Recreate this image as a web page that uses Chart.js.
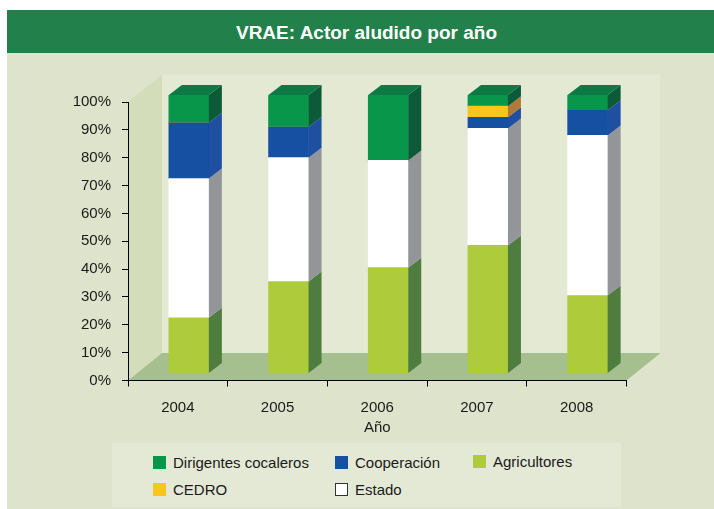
<!DOCTYPE html>
<html>
<head>
<meta charset="utf-8">
<script src="https://cdn.jsdelivr.net/npm/chart.js@4.4.1/dist/chart.umd.min.js"></script>
<style>
    body { margin: 0; background: #fff; width: 714px; height: 509px; overflow: hidden;
           font-family: 'Liberation Sans', Arial, sans-serif; }
    #panel { position: absolute; left: 7px; top: 10px; width: 707px; height: 499px; background: #dee4cb; }
    #title { position: absolute; left: 7px; top: 10px; width: 695px; padding-left: 12px; height: 43px;
             background: #22804a; color: #fff; font-weight: bold; font-size: 19px; line-height: 45px; text-align: center; }
    #chart { position: absolute; left: 0; top: 0; }
    #legend { position: absolute; left: 112px; top: 443px; width: 509px; height: 64px; background: #e4e9d5; }
    .item { position: absolute; height: 20px; line-height: 20px; font-size: 15px; color: #1a1a1a; white-space: nowrap; }
    .box { position: absolute; width: 13px; height: 13px; left: 0; top: 4px; box-sizing: border-box; }
    .item span { position: absolute; left: 20px; top: 1px; }
</style>
</head>
<body>
<div id="panel"></div>
<div id="title">VRAE: Actor aludido por año</div>
<canvas id="chart" width="714" height="509"></canvas>
<div id="legend"></div>
<script>
// --- data (percent of mentions per year) ---
const years = ['2004', '2005', '2006', '2007', '2008'];
const agricultores = [20, 33, 38, 46, 28];
const estado = [50, 44.5, 38.5, 42, 57.5];
const cooperacion = [20, 11, 0, 4, 9];
const cedro = [0, 0, 0, 4, 0];
const dirigentes = [10, 11.5, 23.5, 4, 5.5];
const yTicks = [0, 10, 20, 30, 40, 50, 60, 70, 80, 90, 100];

// front / side colours per series
const series = [
    { label: 'Agricultores', data: agricultores, front: '#adcb3b', side: '#4f7c3f' },
    { label: 'Estado', data: estado, front: '#ffffff', side: '#939598' },
    { label: 'Cooperación', data: cooperacion, front: '#1550a3', side: '#1f4fa0' },
    { label: 'CEDRO', data: cedro, front: '#fac51c', side: '#b07a36' },
    { label: 'Dirigentes cocaleros', data: dirigentes, front: '#07964a', side: '#0c5a37' }
];
const topFace = '#0d7a45';

// 3d look: wall depth and bar depth
const DX = 34, DY = 27.5;
const BX = 13, BY = 10;
const SHIFT_X = 11, SHIFT_Y = -7;

function poly(ctx, pts, color) {
    ctx.beginPath();
    ctx.moveTo(pts[0][0], pts[0][1]);
    for (let i = 1; i < pts.length; i++) ctx.lineTo(pts[i][0], pts[i][1]);
    ctx.closePath();
    ctx.fillStyle = color;
    ctx.fill();
}

const depth3d = {
    id: 'depth3d',
    beforeDraw(chart) {
        const { ctx, chartArea: { left, right, top, bottom } } = chart;
        ctx.save();
        ctx.fillStyle = '#e4e9d4';
        ctx.fillRect(left + DX, top - DY, right - left, bottom - top);
        poly(ctx, [[left, top], [left + DX, top - DY], [left + DX, bottom - DY], [left, bottom]], '#d3ddba');
        poly(ctx, [[left, bottom], [left + DX, bottom - DY], [right + DX, bottom - DY], [right, bottom]], '#a5bf8e');
        ctx.restore();
    },
    beforeDatasetsDraw(chart) {
        chart.ctx.save();
        chart.ctx.translate(SHIFT_X, SHIFT_Y);
    },
    afterDatasetsDraw(chart) {
        const ctx = chart.ctx;
        // side faces
        series.forEach((s, i) => {
            chart.getDatasetMeta(i).data.forEach((el, j) => {
                if (!s.data[j]) return;
                const { x, y, base, width } = el.getProps(['x', 'y', 'base', 'width'], true);
                const r = x + width / 2;
                poly(ctx, [[r, y], [r + BX, y - BY], [r + BX, base - BY], [r, base]], s.side);
            });
        });
        // top faces
        years.forEach((_, j) => {
            let top = -1;
            series.forEach((s, i) => { if (s.data[j]) top = i; });
            if (top < 0) return;
            const { x, y, width } = chart.getDatasetMeta(top).data[j].getProps(['x', 'y', 'width'], true);
            const l = x - width / 2, r = x + width / 2;
            poly(ctx, [[l, y], [l + BX, y - BY], [r + BX, y - BY], [r, y]], topFace);
        });
        ctx.restore();
    }
};

Chart.defaults.font.family = "'Liberation Sans', Arial, sans-serif";
Chart.defaults.font.size = 15;
Chart.defaults.color = '#1a1a1a';

new Chart(document.getElementById('chart'), {
    type: 'bar',
    data: {
        labels: years,
        datasets: series.map(s => ({
            label: s.label,
            data: s.data,
            backgroundColor: s.front,
            borderWidth: 0,
            barThickness: 40
        }))
    },
    options: {
        responsive: false,
        animation: false,
        events: [],
        layout: { padding: { left: 0, top: 102, right: 87.5, bottom: 72 } },
        plugins: { legend: { display: false }, tooltip: { enabled: false } },
        scales: {
            x: {
                stacked: true,
                offset: true,
                grid: { offset: true, drawOnChartArea: false, drawTicks: true, tickLength: 6, color: '#000' },
                border: { display: true, color: '#000', width: 1 },
                ticks: { padding: 12 },
                title: { display: true, text: 'Año', padding: 0 },
                afterFit: s => { s.height = 56.5; }
            },
            y: {
                stacked: true,
                min: 0,
                max: 100,
                grid: { drawOnChartArea: false, drawTicks: true, tickLength: 6, color: '#000' },
                border: { display: true, color: '#000', width: 1 },
                afterBuildTicks: s => { s.ticks = yTicks.map(v => ({ value: v })); },
                ticks: { padding: 11, callback: v => v + '%' },
                afterFit: s => { s.width = 128; }
            }
        }
    },
    plugins: [depth3d]
});

// html legend, laid out like the original (3 columns, 2 rows)
const legendOrder = ['Dirigentes cocaleros', 'Cooperación', 'Agricultores', 'CEDRO', 'Estado'];
const legendSlots = [[41, 9], [223, 9], [361, 8], [41, 36], [223, 36]];
const legend = document.getElementById('legend');
legendOrder.forEach((name, k) => {
    const s = series.find(d => d.label === name);
    const item = document.createElement('div');
    item.className = 'item';
    item.style.left = legendSlots[k][0] + 'px';
    item.style.top = legendSlots[k][1] + 'px';
    const box = document.createElement('div');
    box.className = 'box';
    box.style.background = s.front;
    if (s.front === '#ffffff') box.style.border = '1.5px solid #333';
    const txt = document.createElement('span');
    txt.textContent = name;
    item.appendChild(box);
    item.appendChild(txt);
    legend.appendChild(item);
});
</script>
</body>
</html>
